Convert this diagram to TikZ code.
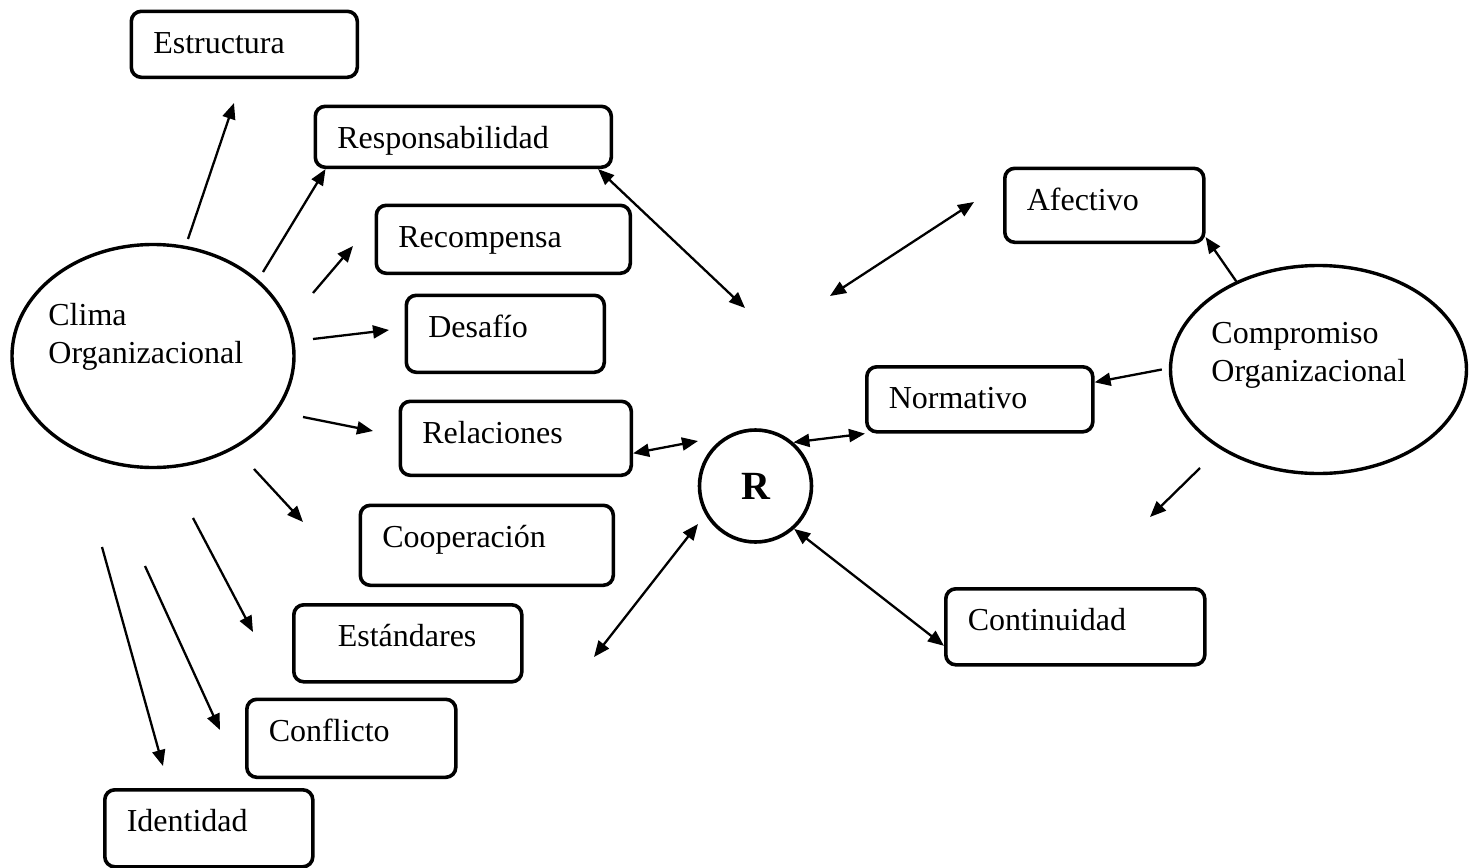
\documentclass[tikz,border=0pt]{standalone}
\usepackage{fontspec}
\setmainfont{Liberation Serif}
\usetikzlibrary{arrows.meta,shapes.geometric}
\tikzset{
  box/.style={draw, rounded corners=5pt, line width=1.8pt, anchor=north west,
              inner xsep=11pt, inner ysep=0pt, align=left, text height=21pt},
  oval/.style={draw, ellipse, line width=1.7pt, inner sep=0pt},
  ovaltxt/.style={anchor=base west, align=left, inner sep=0pt},
  flow/.style={-{Triangle[length=8pt,width=6.5pt]}, line width=1.15pt},
  twoway/.style={{Triangle[length=8pt,width=6.5pt]}-{Triangle[length=8pt,width=6.5pt]}, line width=1.15pt},
}
\begin{document}
\begin{tikzpicture}[x=0.5pt, y=-0.5pt, font=\fontsize{16}{19}\selectfont]
    \useasboundingbox (0,0) rectangle (1469,868);
    % the two constructs and the relation
    \node[oval, minimum width=141pt, minimum height=111.5pt] (clima) at (153,356) {};
    \node[ovaltxt] (climatxt) at (48,363) {Clima\\Organizacional};
    \node[oval, minimum width=148pt, minimum height=104pt] (comp) at (1318.5,369.5) {};
    \node[ovaltxt] (comptxt) at (1211,381) {Compromiso\\Organizacional};
    \node[draw, circle, line width=1.8pt, minimum size=56pt, inner sep=0pt,
          font=\fontsize{20}{24}\selectfont\bfseries] (r) at (755.5,486) {R};
    % dimensions of the climate
    \node[box, text width=91pt, text depth=12pt] (estr) at (129.5,9.5) {Estructura};
    \node[box, text width=126pt, text depth=9.5pt] (resp) at (313.5,104.5) {Responsabilidad};
    \node[box, text width=105pt, text depth=13pt] (recom) at (374.5,203.5) {Recompensa};
    \node[box, text width=77pt, text depth=17.5pt] (desaf) at (404.5,293.5) {Desafío};
    \node[box, text width=93.5pt, text depth=16pt] (rel) at (398.5,399.5) {Relaciones};
    \node[box, text width=104.5pt, text depth=19pt] (coop) at (358.5,503.5) {Cooperación};
    \node[box, inner xsep=22pt, text width=70pt, text depth=17.5pt] (est) at (292,603) {Estándares};
    \node[box, text width=82.5pt, text depth=18pt] (conf) at (245,697.5) {Conflicto};
    \node[box, text width=82pt, text depth=17.5pt] (ident) at (103,788) {Identidad};
    % dimensions of the commitment
    \node[box, text width=77.5pt, text depth=16pt] (afec) at (1003,166.5) {Afectivo};
    \node[box, text width=91pt, text depth=11.5pt] (norm) at (865,365) {Normativo};
    \node[box, text width=107.5pt, text depth=17pt] (cont) at (944,587) {Continuidad};
    % loose arrows
    \foreach \k/\xa/\ya/\xb/\yb in {estr/188/239/234/103, recom/313/293/353/246,
        desaf/313/339/389/330, rel/303/417/373/431, coop/254/469/303/522,
        est/193/518/253/632, conf/145/566/220/730, ident/102/547/163/766,
        down/1200/468/1150/517} {
      \coordinate (\k-from) at (\xa,\ya);
      \coordinate (\k-to) at (\xb,\yb);
      \draw[flow] (\k-from) -- (\k-to);
    }
    \coordinate (resp-tail) at (263,272);
    \coordinate (resp-r) at (745,308);
    \coordinate (afec-a) at (974,202);
    \coordinate (afec-b) at (830,296);
    \coordinate (rel-r) at (698,441);
    \coordinate (r-est) at (698,524);
    \coordinate (est-r) at (594,657);
    \draw[flow] (resp-tail) -- ([xshift=6pt]resp.south west);
    \draw[twoway] ([xshift=-7.5pt]resp.south east) -- (resp-r);
    \draw[twoway] (afec-a) -- (afec-b);
    \draw[twoway] ([yshift=-7.5pt]rel.east) -- (rel-r);
    \draw[twoway] (r.49) -- (norm.south west);
    \draw[twoway] (r-est) -- (est-r);
    \draw[twoway] (r.-48) -- ([yshift=-9.5pt]cont.west);
    \draw[flow] (comp.133) -- ([yshift=3.5pt]afec.south east);
    \draw[flow] ([xshift=-3.5pt]comp.west) -- ([yshift=8.5pt]norm.east);
\end{tikzpicture}
\end{document}
